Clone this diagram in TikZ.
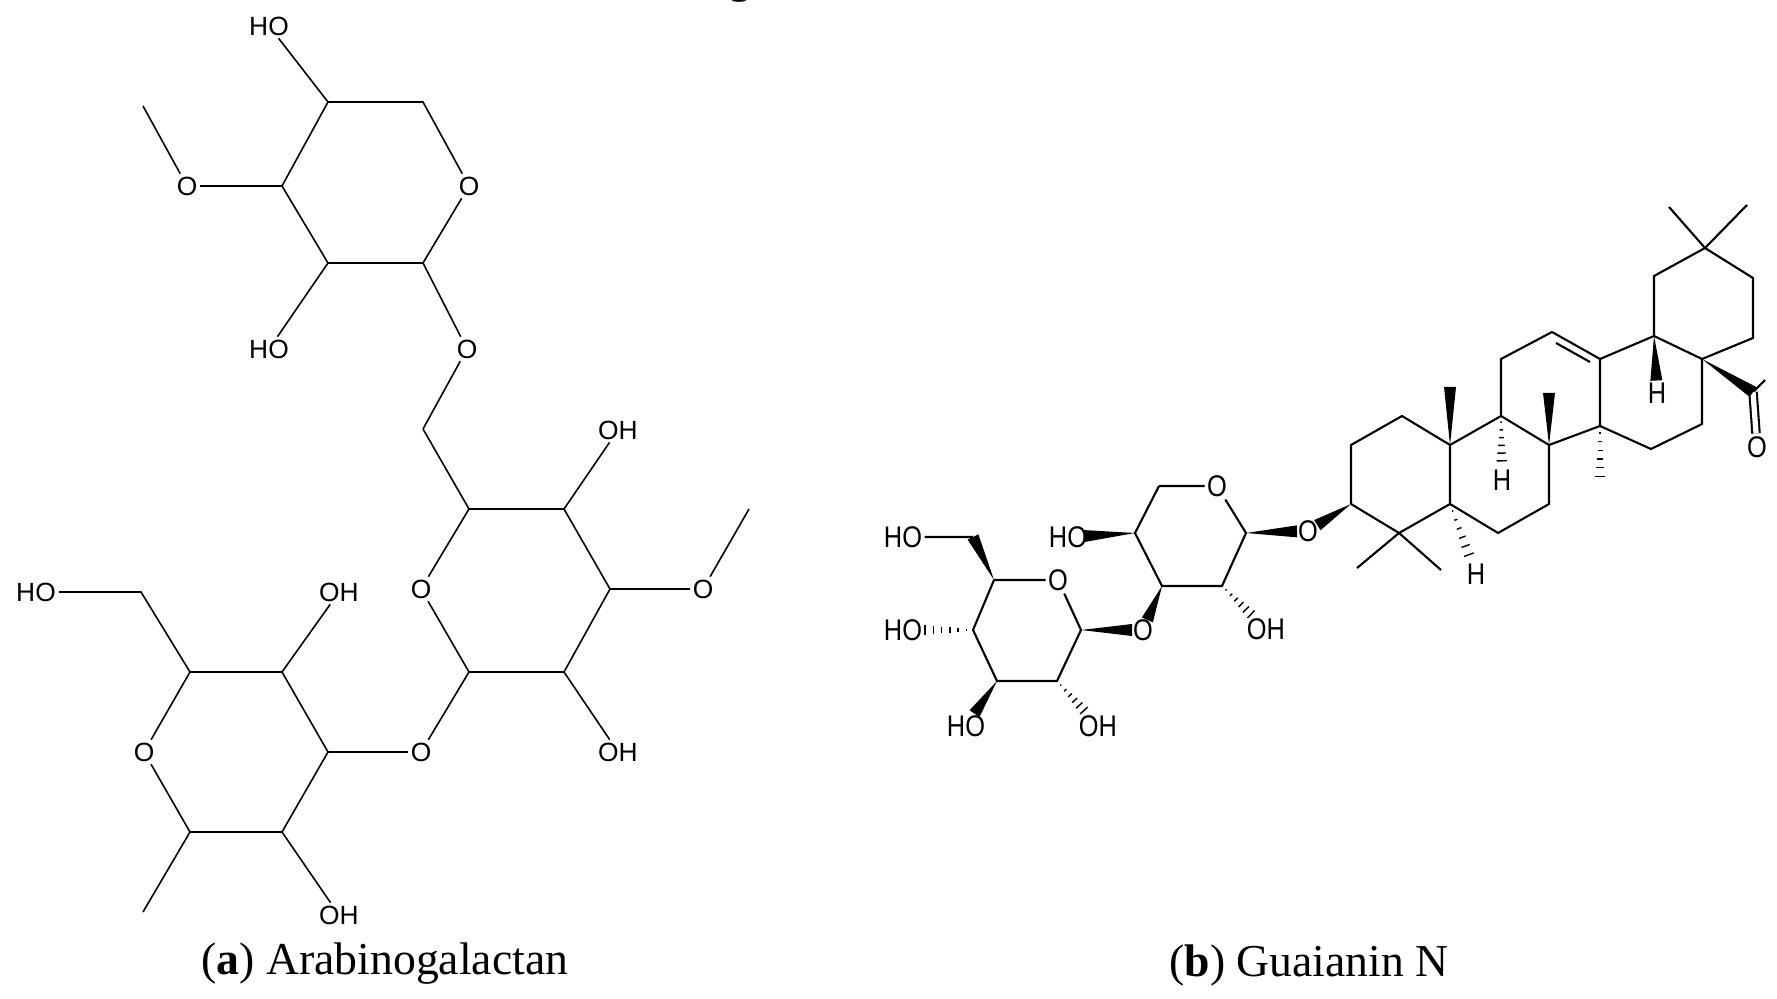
\documentclass[tikz,border=0pt]{standalone}
\usepackage{fontspec}
\setmainfont{Liberation Serif}
\newfontfamily\atomfont{Liberation Sans}
\usetikzlibrary{calc}
\tikzset{
 atom/.style={font=\atomfont\fontsize{15}{15}\selectfont, inner sep=1.5pt},
 ratom/.style={font=\atomfont\fontsize{17}{17}\selectfont, inner sep=1.5pt, xscale=0.85},
 lb/.style={line width=0.9pt},
 rb/.style={line width=1.2pt},
 captxt/.style={font=\fontsize{26}{26}\selectfont}
}
\newcommand\wdg[3]{% narrow at #1, wide at #2, end shortened by #3
 \coordinate (wA) at (#1); \coordinate (wB) at ($(#2)!#3!(#1)$);
 \fill (wA) -- ($(wB)!0.12cm!90:(wA)$) -- ($(wB)!0.12cm!-90:(wA)$) -- cycle;}
\newcommand\hsh[3]{%
 \coordinate (wA) at (#1); \coordinate (wB) at ($(#2)!#3!(#1)$);
 \foreach \t in {0.12,0.27,0.42,0.57,0.72,0.87,1.0}{
  \pgfmathsetmacro\ww{\t*3.4}
  \draw[line width=0.8pt] ($($(wA)!\t!(wB)$)!\ww pt!90:(wB)$) -- ($($(wA)!\t!(wB)$)!\ww pt!-90:(wB)$);}}
\begin{document}
\begin{tikzpicture}[x=0.02cm,y=-0.02cm]
\useasboundingbox (0,0) rectangle (1777,999);
\node[captxt] (g) at (740,-14) {g};
% ---------- (a) ----------
\coordinate (a1) at (328,102); \coordinate (a2) at (423,102);
\node[atom] (aO) at (469,186) {O};
\coordinate (a3) at (423,263); \coordinate (a4) at (328,263); \coordinate (a5) at (282,186);
\node[atom] (aOH1) at (269,26) {HO};
\node[atom] (aOMe) at (187,186) {O}; \coordinate (aMe) at (143,106);
\node[atom] (aOH2) at (269,349) {HO};
\node[atom] (aOl) at (467,349) {O};
\coordinate (aCH2) at (423,429);
\draw[lb] (a1)--(a2)--(aO)--(a3)--(a4)--(a5)--(a1);
\draw[lb] (a1)--(aOH1) (a5)--(aOMe)--(aMe) (a4)--(aOH2) (a3)--(aOl)--(aCH2);
\coordinate (m1) at (469,509); \coordinate (m2) at (564,509);
\coordinate (m3) at (610,589); \coordinate (m4) at (564,672); \coordinate (m5) at (469,672);
\node[atom] (mO) at (421,589) {O};
\node[atom] (mOH1) at (618,430) {OH};
\node[atom] (mOMe) at (703,589) {O}; \coordinate (mMe) at (749,509);
\node[atom] (mOH2) at (618,752) {OH};
\node[atom] (mOl) at (421,752) {O};
\draw[lb] (m1)--(m2)--(m3)--(m4)--(m5)--(mO)--(m1);
\draw[lb] (aCH2)--(m1) (m2)--(mOH1) (m3)--(mOMe)--(mMe) (m4)--(mOH2) (m5)--(mOl);
\coordinate (l1) at (190,672); \coordinate (l2) at (282,672); \coordinate (l3) at (328,752);
\coordinate (l4) at (282,832); \coordinate (l5) at (190,832);
\node[atom] (lO) at (144,752) {O};
\node[atom] (lOH1) at (339,592) {OH};
\coordinate (lCH2) at (141,592);
\node[atom] (lHO) at (36,592) {HO};
\coordinate (lMe) at (143,912);
\node[atom] (lOH2) at (339,915) {OH};
\draw[lb] (l1)--(l2)--(l3)--(l4)--(l5)--(lO)--(l1);
\draw[lb] (l3)--(mOl) (l2)--(lOH1) (l1)--(lCH2)--(lHO) (l5)--(lMe) (l4)--(lOH2);
\node[captxt] (capa) at (385,964) {(\textbf{a}) Arabinogalactan};
% ---------- (b) ----------
\coordinate (g5) at (994,580); \node[ratom] (gO) at (1058,580) {O};
\coordinate (g1) at (1081,630); \coordinate (g2) at (1057,681);
\coordinate (g3) at (997,681); \coordinate (g4) at (973,630);
\coordinate (gCH2) at (973,537);
\node[ratom] (gHO6) at (903,537) {HO};
\node[ratom] (gHO4) at (903,630) {HO};
\node[ratom] (gHO3) at (966,726) {HO};
\node[ratom] (gOH2) at (1098,726) {OH};
\node[ratom] (gOg) at (1143,630) {O};
\draw[rb] (g5)--(gO)--(g1)--(g2)--(g3)--(g4)--(g5) (gCH2)--(gHO6);
\wdg{g5}{gCH2}{0cm}
\hsh{g4}{gHO4}{0.3cm}
\wdg{g3}{gHO3}{0.3cm}
\hsh{g2}{gOH2}{0.3cm}
\wdg{g1}{gOg}{0.22cm}
\coordinate (x1) at (1159,486); \node[ratom] (xO) at (1217,486) {O};
\coordinate (x2) at (1246,533); \coordinate (x3) at (1222,586);
\coordinate (x4) at (1162,586); \coordinate (x5) at (1135,533);
\node[ratom] (xHO) at (1068,537) {HO};
\node[ratom] (xOH) at (1266,629) {OH};
\node[ratom] (xOl) at (1308,531) {O};
\draw[rb] (x1)--(xO)--(x2)--(x3)--(x4)--(x5)--(x1);
\wdg{x5}{xHO}{0.32cm}
\hsh{x3}{xOH}{0.3cm}
\wdg{x4}{gOg}{0.22cm}
\wdg{x2}{xOl}{0.22cm}
% triterpene
\coordinate (A3) at (1351,504); \coordinate (A4) at (1399,533); \coordinate (A5) at (1450,504);
\coordinate (A10) at (1450,445); \coordinate (A1) at (1402,416); \coordinate (A2) at (1351,445);
\coordinate (Me1) at (1357,568); \coordinate (Me2) at (1441,570);
\node[ratom] (H5) at (1476,574) {H};
\coordinate (Me10) at (1450,387);
\coordinate (B6) at (1498,533); \coordinate (B7) at (1549,504); \coordinate (B8) at (1549,445);
\coordinate (Me8) at (1549,393); \coordinate (B9) at (1501,416);
\node[ratom] (H9) at (1502,480) {H};
\coordinate (C11) at (1501,359); \coordinate (C12) at (1552,332); \coordinate (C13) at (1600,359);
\coordinate (C14) at (1600,426); \coordinate (Me14) at (1600,484);
\coordinate (D15) at (1651,449); \coordinate (D16) at (1702,424); \coordinate (D17) at (1702,359);
\coordinate (D18) at (1654,336);
\node[ratom] (H18) at (1657,393) {H};
\coordinate (E19) at (1654,276); \coordinate (E20) at (1705,248);
\coordinate (Me20a) at (1669,207); \coordinate (Me20b) at (1747,205);
\coordinate (E21) at (1753,278); \coordinate (E22) at (1753,338);
\coordinate (C28) at (1753,392); \node[ratom] (O28) at (1757,447) {O};
\coordinate (C28x) at (1765,380);
\draw[rb] (A3)--(A4)--(A5)--(A10)--(A1)--(A2)--(A3) (A4)--(Me1) (A4)--(Me2)
 (A5)--(B6)--(B7)--(B8)--(B9)--(A10) (B9)--(C11)--(C12) (C12)--(C13)--(C14)--(B8)
 (C14)--(D15)--(D16)--(D17)--(D18)--(C13)
 (D18)--(E19)--(E20)--(E21)--(E22)--(D17) (E20)--(Me20a) (E20)--(Me20b)
 (C28)--(C28x);
\draw[rb] (1556,343)--(1590,362);
\draw[rb, double, double distance=3pt] (C28)--(O28);
\wdg{A3}{xOl}{0.22cm}
\wdg{A10}{Me10}{0cm}
\wdg{B8}{Me8}{0cm}
\wdg{D18}{H18}{0.25cm}
\wdg{D17}{C28}{0cm}
\hsh{A5}{H5}{0.25cm}
\hsh{B9}{H9}{0.25cm}
\hsh{C14}{Me14}{0cm}
\node[captxt] (capb) at (1309,966) {(\textbf{b}) Guaianin N};
\end{tikzpicture}
\end{document}
